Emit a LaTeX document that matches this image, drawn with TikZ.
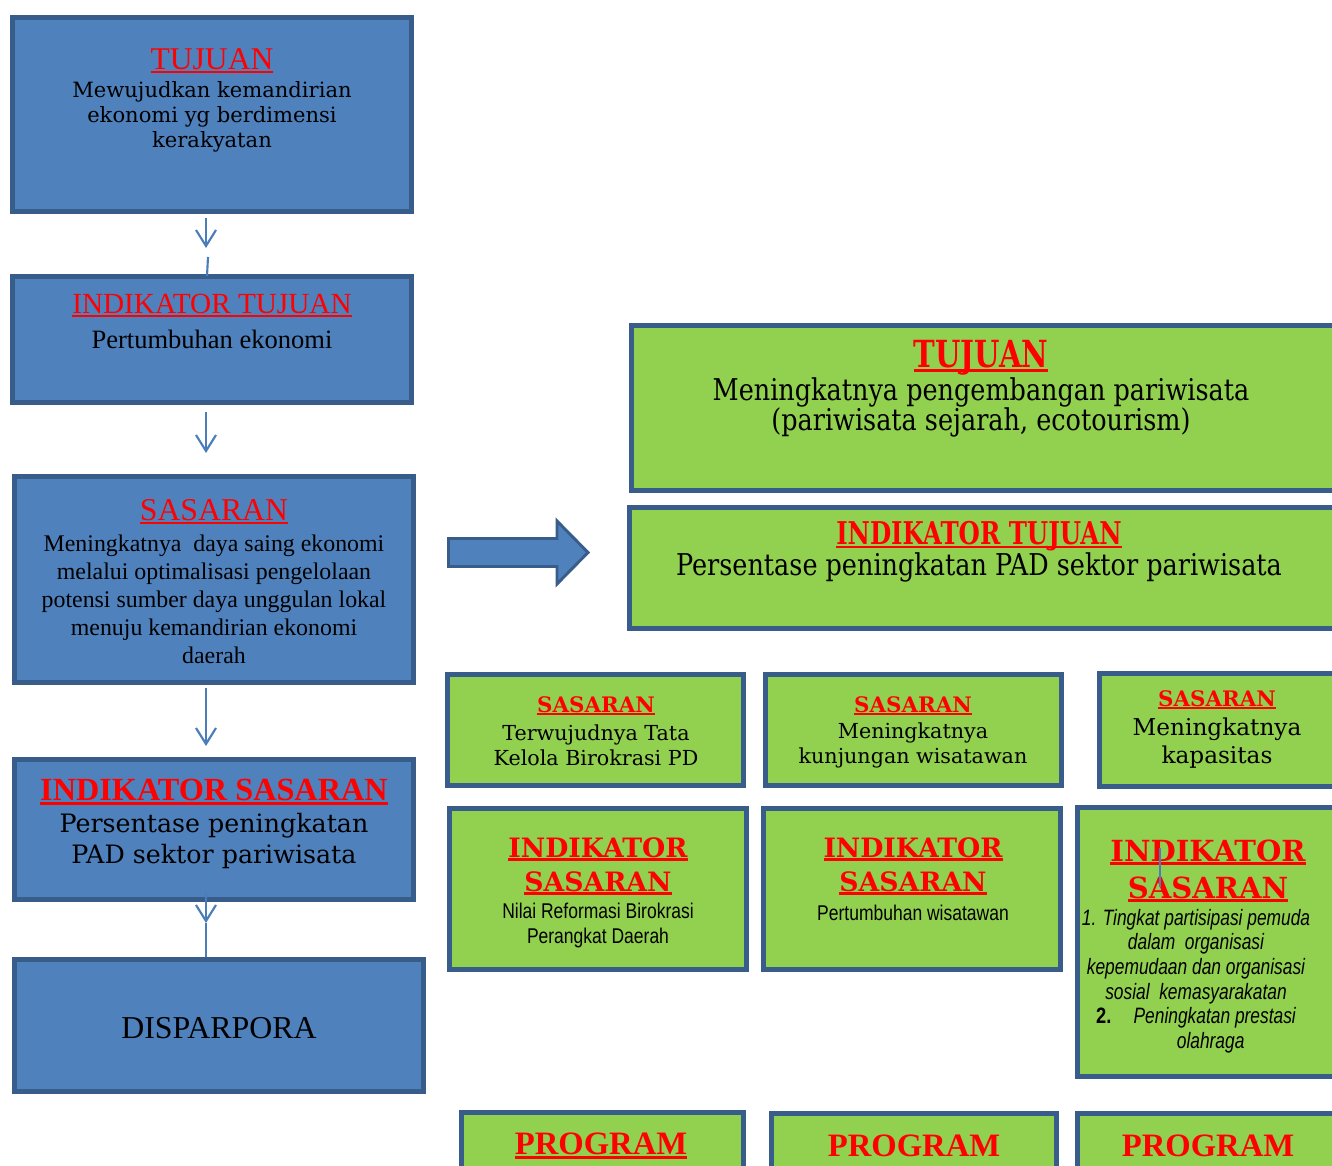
\documentclass[tikz,border=0pt]{standalone}
\usepackage{fontspec}
\usetikzlibrary{arrows.meta,fit}
\setmainfont{Liberation Serif}
\newfontfamily\bk{DejaVu Serif}
\newfontfamily\bkc[FakeStretch=0.85]{DejaVu Serif}
\newfontfamily\bkt[FakeStretch=0.78]{DejaVu Serif}
\newfontfamily\arn[FakeStretch=0.82]{Liberation Sans}
\newfontfamily\ari[FakeStretch=0.78]{Liberation Sans}
\definecolor{bdark}{HTML}{385D8A}
\definecolor{bfill}{HTML}{4F81BD}
\definecolor{gfill}{HTML}{92D050}
\definecolor{lblue}{HTML}{4A7EBB}
\definecolor{tred}{HTML}{FF0000}
\newcommand{\rt}[1]{{\color{tred}\setbox0\hbox{#1}\rlap{\rule[-0.12em]{\wd0}{0.08em}}\box0}}
\newcommand{\fz}[2]{\fontsize{#1}{#2}\selectfont}
\tikzset{
  bbox/.style={draw=bdark, fill=bfill, line width=3.75pt, inner sep=0pt},
  gbox/.style={draw=bdark, fill=gfill, line width=3.75pt, inner sep=0pt},
  txt/.style={align=center, inner sep=0pt, text=black},
  conn/.style={draw=lblue, line width=1.6pt},
  arr/.style={conn, -{Straight Barb[length=12pt, width=15pt, line width=1.6pt]}}
}
\begin{document}
\begin{tikzpicture}[x=0.75pt, y=-0.75pt]
\clip (0,0) rectangle (1332,1166);
\fill[white] (0,0) rectangle (1332,1166);
% left blue boxes
\node[bbox, fit={(12.5,17.5) (411.5,211.5)}] (b1) {};
\node[bbox, fit={(12.5,276.5) (411.5,402.5)}] (b2) {};
\node[bbox, fit={(14.5,476.5) (413.5,682.5)}] (b3) {};
\node[bbox, fit={(14.5,759.5) (413.5,899.5)}] (b4) {};
\node[bbox, fit={(14.5,959.5) (423.5,1091.5)}] (b5) {};
% right green boxes
\node[gbox, fit={(631.5,325.5) (1345,490.5)}] (g1) {};
\node[gbox, fit={(629.5,507.5) (1345,628.5)}] (g2) {};
\node[gbox, fit={(447.5,674.5) (743.5,785.5)}] (s1) {};
\node[gbox, fit={(765.5,674.5) (1061.5,785.5)}] (s2) {};
\node[gbox, fit={(1099.5,673.5) (1345,786.5)}] (s3) {};
\node[gbox, fit={(449.5,808.5) (746.5,969.5)}] (i1) {};
\node[gbox, fit={(763.5,808.5) (1060.5,969.5)}] (i2) {};
\node[gbox, fit={(1077.5,807.5) (1345,1076.5)}] (i3) {};
\node[gbox, fit={(461.5,1112.5) (743.5,1185)}] (p1) {};
\node[gbox, fit={(771.5,1113.5) (1056.5,1185)}] (p2) {};
\node[gbox, fit={(1077.5,1113.5) (1345,1185)}] (p3) {};
% block arrow
\draw[line width=2.2pt, draw=bdark, fill=bfill] (448.5,538.5) -- (557,538.5) -- (557,521) -- (588,552.5) -- (557,584) -- (557,566.5) -- (448.5,566.5) -- cycle;
% left texts
\node[txt, font=\fz{23.7}{28}] (t1h) at (212,61) {\rt{TUJUAN}};
\node[txt, font=\bk\fz{15.8}{18.75}] (t1b) at (212,117) {Mewujudkan kemandirian\\ekonomi yg berdimensi\\kerakyatan};
\node[txt, font=\fz{21.9}{26}] (t2h) at (212,306) {\rt{INDIKATOR TUJUAN}};
\node[txt, font=\fz{19.9}{24}] (t2b) at (212,339) {Pertumbuhan ekonomi};
\node[txt, font=\fz{23.8}{28}] (t3h) at (214,512) {\rt{SASARAN}};
\node[txt, font=\fz{17.9}{21}] (t3b) at (214,599) {Meningkatnya\ \ daya saing ekonomi\\melalui optimalisasi pengelolaan\\potensi sumber daya unggulan lokal\\menuju kemandirian ekonomi\\daerah};
\node[txt, font=\bfseries\fz{24.2}{28}] (t4h) at (214,792) {\rt{INDIKATOR SASARAN}};
\node[txt, font=\bk\fz{19}{23.25}] (t4b) at (214,841.5) {Persentase peningkatan\\PAD sektor pariwisata};
\node[txt, font=\fz{23.9}{28}] (t5) at (219,1028) {DISPARPORA};
% right texts
\node[txt, font=\bkt\bfseries\fz{28}{32}] (g1h) at (981,358) {\rt{TUJUAN}};
\node[txt, font=\bkc\fz{22.5}{22.5}] (g1b) at (981,407) {Meningkatnya pengembangan pariwisata\\(pariwisata sejarah, ecotourism)};
\node[txt, font=\bkt\bfseries\fz{23.5}{28}] (g2h) at (979,536) {\rt{INDIKATOR TUJUAN}};
\node[txt, font=\bkc\fz{22.5}{22.5}] (g2b) at (979,567) {Persentase peningkatan PAD sektor pariwisata};
\node[txt, font=\bk\bfseries\fz{16}{19}] (s1h) at (596,706) {\rt{SASARAN}};
\node[txt, font=\bk\fz{15.5}{18.75}] (s1b) at (596,745) {Terwujudnya Tata\\Kelola Birokrasi PD};
\node[txt, font=\bk\bfseries\fz{16}{19}] (s2h) at (913,706) {\rt{SASARAN}};
\node[txt, font=\bk\fz{15.5}{18.75}] (s2b) at (913,745) {Meningkatnya\\kunjungan wisatawan};
\node[txt, font=\bk\bfseries\fz{16}{19}] (s3h) at (1217,700) {\rt{SASARAN}};
\node[txt, font=\bk\fz{17.4}{21}] (s3b) at (1217,743) {Meningkatnya\\kapasitas};
\node[txt, font=\bk\bfseries\fz{20}{25.5}] (i1h) at (598,866) {\rt{INDIKATOR}\\\rt{SASARAN}};
\node[txt, font=\arn\fz{16}{18.75}] (i1b) at (598,925.5) {Nilai Reformasi Birokrasi\\Perangkat Daerah};
\node[txt, font=\bk\bfseries\fz{20}{25.5}] (i2h) at (913,866) {\rt{INDIKATOR}\\\rt{SASARAN}};
\node[txt, font=\arn\fz{16}{18.75}] (i2b) at (913,912.5) {Pertumbuhan wisatawan};
\node[txt, font=\bk\bfseries\fz{21.8}{27.75}] (i3h) at (1208,870.5) {\rt{INDIKATOR}\\\rt{SASARAN}};
\node[txt, font=\ari\itshape\fz{16.7}{18.5}] (i3b) at (1196,981) {1. Tingkat partisipasi pemuda\\dalam\ \ organisasi\\kepemudaan dan organisasi\\sosial\ \ kemasyarakatan\\{\upshape\bfseries\arn 2.}\quad Peningkatan prestasi\\\hspace*{22pt}olahraga};
\node[txt, font=\bfseries\fz{24.5}{28}] (p1h) at (601,1146) {\rt{PROGRAM}};
\node[txt, font=\bfseries\fz{24.5}{28}, text=tred] (p2h) at (914,1146) {PROGRAM};
\node[txt, font=\bfseries\fz{24.5}{28}, text=tred] (p3h) at (1208,1146) {PROGRAM};
% connectors
\coordinate (a1s) at (206,218); \coordinate (a1e) at (206,248);
\coordinate (k1s) at (208,257); \coordinate (k1e) at (207,276);
\coordinate (a2s) at (206,412); \coordinate (a2e) at (206,453);
\coordinate (a3s) at (206,688); \coordinate (a3e) at (206,746);
\coordinate (a4s) at (206,893); \coordinate (a4e) at (206,923);
\draw[arr] (a1s) -- (a1e);
\draw[conn] (k1s) -- (k1e);
\draw[arr] (a2s) -- (a2e);
\draw[arr] (a3s) -- (a3e);
\draw[arr] (a4s) -- (a4e);
\draw[conn] (a4e) -- (a4e |- b5.north);
\coordinate (m1) at (1160,848); \coordinate (m2) at (1160,887);
\draw[conn, line width=1pt] (m1) -- (m2);
\end{tikzpicture}
\end{document}
